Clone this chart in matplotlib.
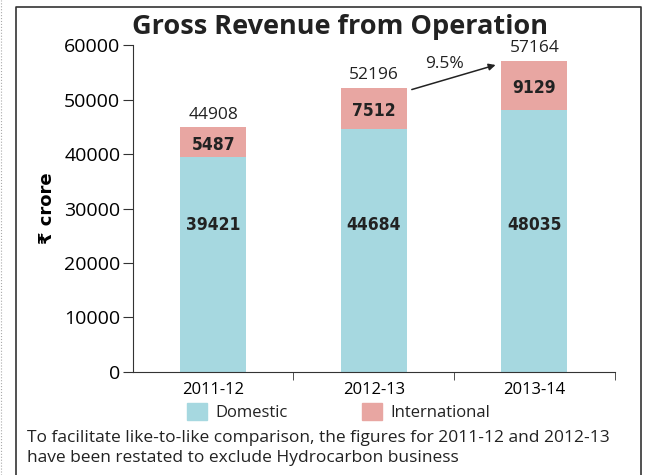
import matplotlib.pyplot as plt
from matplotlib.lines import Line2D
from matplotlib.patches import Patch
import numpy as np

years = ['2011-12', '2012-13', '2013-14']
domestic = [39421, 44684, 48035]
international = [5487, 7512, 9129]
totals = [44908, 52196, 57164]
growth = '9.5%'

blue = '#a6d8e0'
pink = '#e8a6a2'

plt.rcParams['font.family'] = ['Open Sans', 'DejaVu Sans']
plt.rcParams['text.color'] = '#222222'

fig = plt.figure(figsize=(6.45, 4.75), dpi=100)
ax = fig.add_axes([0.206, 0.217, 0.747, 0.688])

x = np.arange(len(years))
w = 0.41
ax.bar(x, domestic, w, color=blue)
ax.bar(x, international, w, bottom=domestic, color=pink)

for i in range(len(years)):
    ax.text(x[i], 27000, str(domestic[i]), ha='center', va='center',
            fontsize=12.5, fontweight='bold', family='DejaVu Sans', fontstretch='condensed')
    ax.text(x[i], domestic[i] + international[i] / 2 - 500, str(international[i]),
            ha='center', va='center', fontsize=12.5, fontweight='bold',
            family='DejaVu Sans', fontstretch='condensed')
    ax.annotate(str(totals[i]), (x[i], totals[i]), xytext=(0, 3),
                textcoords='offset points', ha='center', va='bottom', fontsize=12.5)

# growth arrow
ax.annotate('', xy=(1.775, 56500), xytext=(1.22, 51700),
            arrowprops=dict(arrowstyle='-|>', color='#222222', lw=1.1, mutation_scale=10))
ax.text(1.44, 56600, growth, ha='center', va='center', fontsize=12.5)

ax.set_xlim(-0.5, 2.5)
ax.set_ylim(0, 60000)
ax.set_yticks(range(0, 60001, 10000))
ax.set_xticks(x)
ax.set_xticklabels(years, fontsize=12)
ax.set_xticks([0.5, 1.5, 2.5], minor=True)
ax.tick_params(axis='x', which='major', length=0, pad=7)
ax.tick_params(axis='x', which='minor', length=6, direction='out', color='#333333')
ax.tick_params(axis='y', length=7, labelsize=14, color='#333333', pad=2)
for s in ['top', 'right']:
    ax.spines[s].set_visible(False)
for s in ['left', 'bottom']:
    ax.spines[s].set_color('#333333')

ax.set_ylabel('₹ crore', fontsize=13, fontweight='bold', labelpad=6,
              family=['DejaVu Sans'])

fig.text(0.527, 0.944, 'Gross Revenue from Operation', ha='center', va='center',
         fontsize=19.5, fontweight='bold')

handles = [Patch(color=blue, label='Domestic'), Patch(color=pink, label='International')]
fig.legend(handles=handles, loc='center', bbox_to_anchor=(0.525, 0.132), ncol=2,
           frameon=False, fontsize=12, handlelength=1.2, handleheight=1.2,
           columnspacing=4.5, handletextpad=0.5)

fig.text(0.042, 0.078, 'To facilitate like-to-like comparison, the figures for 2011-12 and 2012-13',
         fontsize=12.5, va='center')
fig.text(0.042, 0.036, 'have been restated to exclude Hydrocarbon business',
         fontsize=12.5, va='center')

# frame around the panel
fig.add_artist(Line2D([0.025, 0.025, 0.994, 0.994], [0.0, 0.985, 0.985, 0.0],
                      transform=fig.transFigure, color='#333333', lw=1.2))
fig.add_artist(Line2D([0.002, 0.002], [0, 1], transform=fig.transFigure,
                      color='#aaaaaa', lw=0.8, ls=':'))

fig.savefig('out.png', dpi=100)
